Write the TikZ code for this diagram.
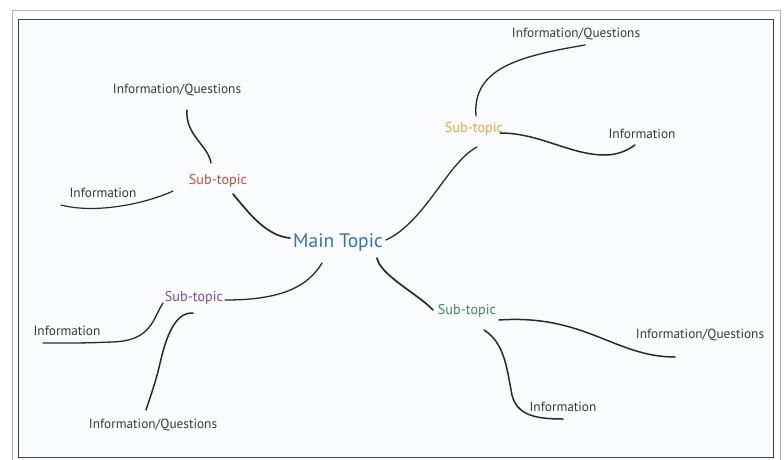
\documentclass[tikz,border=0pt]{standalone}
\usepackage{fontspec}
\setmainfont{PT Sans}
\definecolor{txtgray}{HTML}{3A3A3A}
\definecolor{linegray}{HTML}{2A2A2A}
\definecolor{bgpaper}{HTML}{FAFBFC}
\definecolor{maincol}{HTML}{2F78AE}
\definecolor{redcol}{HTML}{C24A4A}
\definecolor{orangecol}{HTML}{E8A83C}
\definecolor{purplecol}{HTML}{8046A8}
\definecolor{greencol}{HTML}{3C8A5C}
\begin{document}
\begin{tikzpicture}[x=1pt,y=-1pt,
  leaf/.style={inner sep=0pt,font=\fontsize{13.3}{15}\selectfont,text=txtgray},
  subnode/.style={inner sep=0pt,font=\fontsize{14.2}{16}\selectfont},
  mainnode/.style={inner sep=0pt,font=\fontsize{19.5}{21}\selectfont,text=maincol},
  branch/.style={draw=linegray,line width=1.7pt,line cap=round},
  twig/.style={draw=linegray,line width=1.5pt,line cap=round}]
\useasboundingbox (0,0) rectangle (784,459);
\fill[white] (0,0) rectangle (784,459);
\draw[draw=black!30,line width=0.8pt] (12,10) rectangle (780,470);
\draw[draw=black!75,fill=bgpaper,line width=0.9pt] (18,19) rectangle (773,457.5);

% nodes
\node[mainnode] (main) at (338,243) {Main Topic};
\node[subnode,text=redcol] (rs) at (218,181) {Sub-topic};
\node[leaf] (riq) at (177,90) {Information/Questions};
\node[leaf] (ri) at (103,193) {Information};
\node[subnode,text=orangecol] (os) at (474,129) {Sub-topic};
\node[leaf] (oiq) at (576,34) {Information/Questions};
\node[leaf] (oi) at (642,134) {Information};
\node[subnode,text=purplecol] (ps) at (194,298) {Sub-topic};
\node[leaf] (pi) at (67,331) {Information};
\node[leaf] (piq) at (153,425) {Information/Questions};
\node[subnode,text=greencol] (gs) at (467,311) {Sub-topic};
\node[leaf] (giq) at (700,335) {Information/Questions};
\node[leaf] (gi) at (563,407) {Information};

% red branch
\draw[branch] ([shift={(15,13)}]rs.center) .. controls (248,212) and (266,236) .. ([shift={(-48,-5)}]main.center);
\draw[twig] ([shift={(10,20)}]riq.center) .. controls (185,135) and (208,145) .. ([shift={(-7,-18)}]rs.center);
\draw[twig,line width=1.2pt] ([shift={(-42,12)}]ri.center) .. controls (95,214) and (145,204) .. ([shift={(-45,10)}]rs.center);

% orange branch
\draw[branch,line width=1.3pt] ([shift={(48,-3)}]main.center) .. controls (425,222) and (448,162) .. ([shift={(3,18)}]os.center);
\draw[twig,line width=1.3pt] ([shift={(2,-13)}]os.center) .. controls (472,68) and (520,56) .. ([shift={(9,11)}]oiq.center);
\draw[twig] ([shift={(26,4)}]os.center) .. controls (540,133) and (570,155) .. (605,155)
  .. controls (618,155) and (628,150) .. ([shift={(-7,11)}]oi.center);

% purple branch
\draw[branch,line width=1.3pt] ([shift={(-16,20)}]main.center) .. controls (305,292) and (270,300) .. ([shift={(31,2)}]ps.center);
\draw[twig,line width=1.3pt] ([shift={(-31,5)}]ps.center) .. controls (153,318) and (152,341) .. (112,342)
  .. controls (85,343) .. ([shift={(-24,12)}]pi.center);
\draw[twig] ([shift={(-1,15)}]ps.center) .. controls (177,312) and (168,332) .. (162,355)
  .. controls (156,380) .. ([shift={(-7,-15)}]piq.center);

% green branch
\draw[branch] ([shift={(39,15)}]main.center) .. controls (380,275) and (418,294) .. ([shift={(-34,-1)}]gs.center);
\draw[twig] ([shift={(32,9)}]gs.center) .. controls (585,314) and (615,357) .. ([shift={(-25,22)}]giq.center);
\draw[twig] ([shift={(17,19)}]gs.center) .. controls (505,343) and (507,370) .. (512,395)
  .. controls (517,415) and (535,419) .. ([shift={(0,12)}]gi.center);
\end{tikzpicture}
\end{document}
